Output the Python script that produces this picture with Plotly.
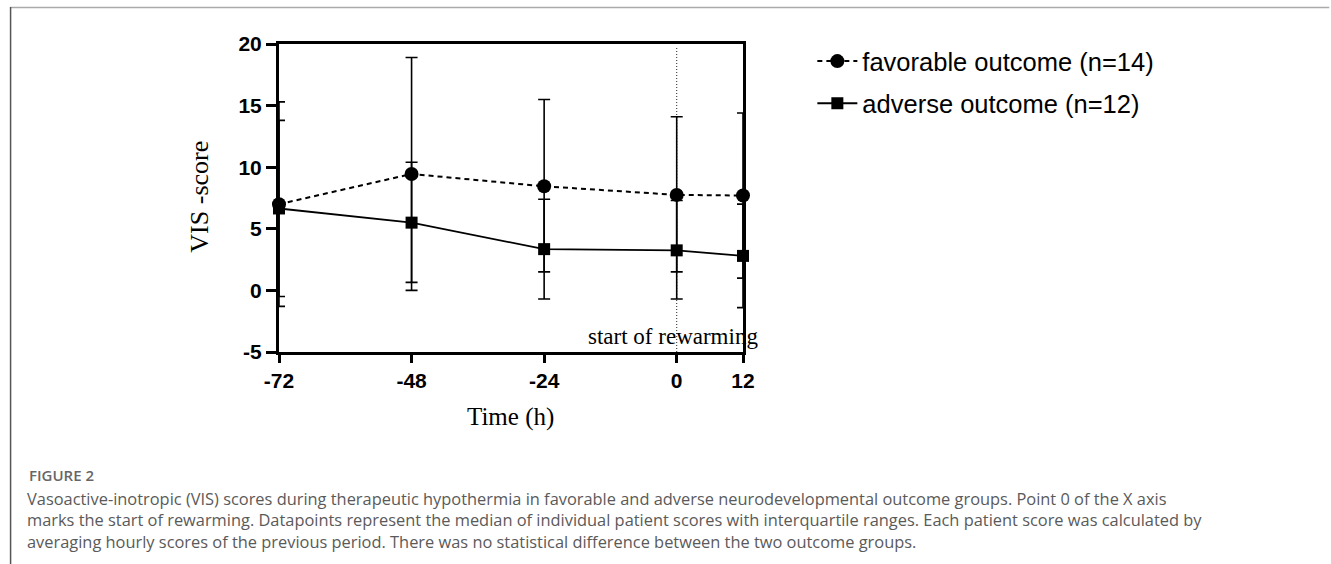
import plotly.graph_objects as go

# ---- data ----
time_h = [-72, -48, -24, 0, 12]
x_ticks = [-72, -48, -24, 0, 12]
y_ticks = [-5, 0, 5, 10, 15, 20]

fav_name = "favorable outcome (n=14)"
fav_median = [7.0, 9.45, 8.45, 7.75, 7.7]
fav_q3 = [15.3, 18.9, 15.5, 14.1, 14.4]
fav_q1 = [-1.3, 0.0, 1.5, 1.5, 1.0]

adv_name = "adverse outcome (n=12)"
adv_median = [6.65, 5.5, 3.35, 3.25, 2.8]
adv_q3 = [13.8, 10.4, 7.4, 7.3, 7.0]
adv_q1 = [-0.5, 0.65, -0.7, -0.7, -1.4]

caption_title = "FIGURE 2"
caption_lines = [
    "Vasoactive-inotropic (VIS) scores during therapeutic hypothermia in favorable and adverse neurodevelopmental outcome groups. Point 0 of the X axis",
    "marks the start of rewarming. Datapoints represent the median of individual patient scores with interquartile ranges. Each patient score was calculated by",
    "averaging hourly scores of the previous period. There was no statistical difference between the two outcome groups.",
]

W, H = 1331, 564
L, R, T, B = 278.5, 743.5, 44, 352


def px(xp):
    return (xp - L) / (R - L)


def py(yp):
    return (B - yp) / (B - T)


def err(med, hi, lo):
    return dict(
        type="data", symmetric=False,
        array=[h - m for h, m in zip(hi, med)],
        arrayminus=[m - l for m, l in zip(med, lo)],
        color="black", thickness=1.6, width=6,
    )


fig = go.Figure()
fig.add_trace(go.Scatter(
    x=time_h, y=fav_median, name=fav_name, mode="lines+markers", legendgroup="fav",
    line=dict(color="black", width=2, dash="5px,4px"),
    marker=dict(symbol="circle", size=14, color="black"),
    error_y=err(fav_median, fav_q3, fav_q1), cliponaxis=False,
))
fig.add_trace(go.Scatter(
    x=time_h, y=adv_median, name=adv_name, mode="lines+markers", legendgroup="adv",
    line=dict(color="black", width=1.8),
    marker=dict(symbol="square", size=12, color="black"),
    error_y=err(adv_median, adv_q3, adv_q1), cliponaxis=False,
))

# dotted line marking start of rewarming
fig.add_shape(type="line", xref="x", yref="paper", x0=0, x1=0, y0=0, y1=0.99,
              line=dict(color="#222", width=1, dash="1px,2px"), layer="below")

# page frame lines
fig.add_shape(type="line", xref="paper", yref="paper", x0=px(9), x1=px(W), y0=py(7.5), y1=py(7.5),
              line=dict(color="#aaaaaa", width=1.5))
fig.add_shape(type="line", xref="paper", yref="paper", x0=px(9.5), x1=px(9.5), y0=py(7), y1=py(H),
              line=dict(color="#555555", width=1.5))

serif = "Liberation Serif, Times New Roman, serif"
ann = [
    dict(text="start of rewarming", x=px(761), y=py(336), xanchor="right", yanchor="middle",
         font=dict(family=serif, size=23, color="black")),
    dict(text="VIS -score", x=px(198), y=py(197), textangle=-90, xanchor="center", yanchor="middle",
         font=dict(family=serif, size=26, color="black")),
    dict(text="Time (h)", x=px(510), y=py(417), xanchor="center", yanchor="middle",
         font=dict(family=serif, size=25, color="black")),
    dict(text=caption_title, x=px(26), y=py(475), xanchor="left", yanchor="middle",
         font=dict(family="Open Sans", size=15, color="#666666", weight=600)),
    dict(text="<br>".join(caption_lines), x=px(24), y=py(485), xanchor="left", yanchor="top",
         align="left", font=dict(family="Open Sans", size=16.4, color="#5a5a5a")),
]
for a in ann:
    a.update(xref="paper", yref="paper", showarrow=False)
fig.update_layout(annotations=ann)

tickfont = dict(family="Liberation Sans, Arial", size=21, color="black", weight="bold")
fig.update_xaxes(range=[-72, 12], tickvals=x_ticks, ticktext=[str(v) for v in x_ticks],
                 showline=True, linewidth=3, linecolor="black", mirror=True,
                 ticks="outside", ticklen=8, tickwidth=3, tickcolor="black",
                 showgrid=False, zeroline=False, tickfont=tickfont)
fig.update_yaxes(range=[-5, 20], tickvals=y_ticks, ticktext=[str(v) for v in y_ticks],
                 showline=True, linewidth=3, linecolor="black", mirror=True,
                 ticks="outside", ticklen=10, tickwidth=3, tickcolor="black",
                 showgrid=False, zeroline=False, tickfont=tickfont)

fig.update_layout(
    width=W, height=H,
    margin=dict(l=L, r=W - R, t=T, b=H - B, pad=0),
    plot_bgcolor="white", paper_bgcolor="white",
    showlegend=True,
    legend=dict(x=px(813), y=py(38), xanchor="left", yanchor="top",
                font=dict(family="Liberation Sans, Arial", size=25.5, color="black"),
                bgcolor="rgba(0,0,0,0)", tracegroupgap=6, itemwidth=40),
)

fig.write_html("out.html")
